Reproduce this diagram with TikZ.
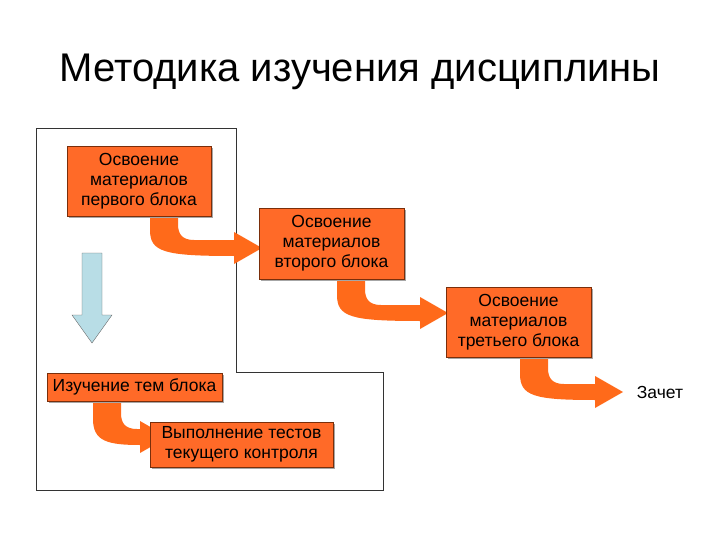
\documentclass[tikz,border=0pt]{standalone}
\usepackage{fontspec}
\setmainfont{Liberation Sans}
\usetikzlibrary{calc,positioning,shadows}
\definecolor{blockfill}{HTML}{FF6A28}
\definecolor{blockline}{HTML}{7A2E0A}
\definecolor{arrowfill}{HTML}{FF6A1A}
\definecolor{downfill}{HTML}{B8DDE6}

\newcommand\bentarrow[4]{% x0, ytop, xtip, ytip
  \fill [bent] (#1,#2) -- (#1,#4-18) .. controls (#1,#4+4) and (#1+14,#4+8) .. (#3-28,#4+8)
    -- (#3-28,#4+16) -- (#3,#4) -- (#3-28,#4-16) -- (#3-28,#4-8)
    -- (#1+44,#4-8) .. controls (#1+32,#4-8) and (#1+28,#4-14) .. (#1+28,#4-24) -- (#1+28,#2) -- cycle;}

\begin{document}
\begin{tikzpicture}[x=1pt,y=-1pt,
	block/.style={rectangle,draw=blockline,fill=blockfill,inner sep=0pt,
	   align=center,font=\fontsize{17.5}{20}\selectfont,
	   drop shadow={shadow xshift=2pt,shadow yshift=-2pt,fill=black!35,opacity=1}},
	bent/.style={fill=arrowfill},
	frame/.style={draw=black!80,line width=0.6pt}
	]
\useasboundingbox (0,0) rectangle (720,540);

\node (title) at (360,72) {\fontsize{40}{44}\selectfont Методика изучения дисциплины};

\draw [frame] (36,128) -- (236,128) -- (236,372) -- (383,372) -- (383,490) -- (36,490) -- cycle;

\bentarrow{150}{216}{262}{248}
\bentarrow{337}{279}{448}{313}
\bentarrow{520}{357}{623}{392}
\bentarrow{93}{401}{168}{437}

\node [block,minimum width=144pt,minimum height=70pt] (b1) at (139,181) {Освоение\\материалов\\первого блока};
\node [block,minimum width=145pt,minimum height=71pt] (b2) at (331.5,243.5) {Освоение\\материалов\\второго блока};
\node [block,minimum width=145pt,minimum height=70pt] (b3) at (518.5,322) {Освоение\\материалов\\третьего блока};
\node [block,minimum width=175pt,minimum height=28pt] (b4) at (134.5,387) {Изучение тем блока};
\node [block,minimum width=183pt,minimum height=45pt] (b5) at (241.5,444.5) {Выполнение тестов\\текущего контроля};
\node [font=\fontsize{17.5}{20}\selectfont] (zachet) at (660,392) {Зачет};

\filldraw [fill=downfill,draw=black!60] (82,253) -- (102,253) -- (102,315) -- (112,315) -- (92,343) -- (72,315) -- (82,315) -- cycle;
\end{tikzpicture}
\end{document}
